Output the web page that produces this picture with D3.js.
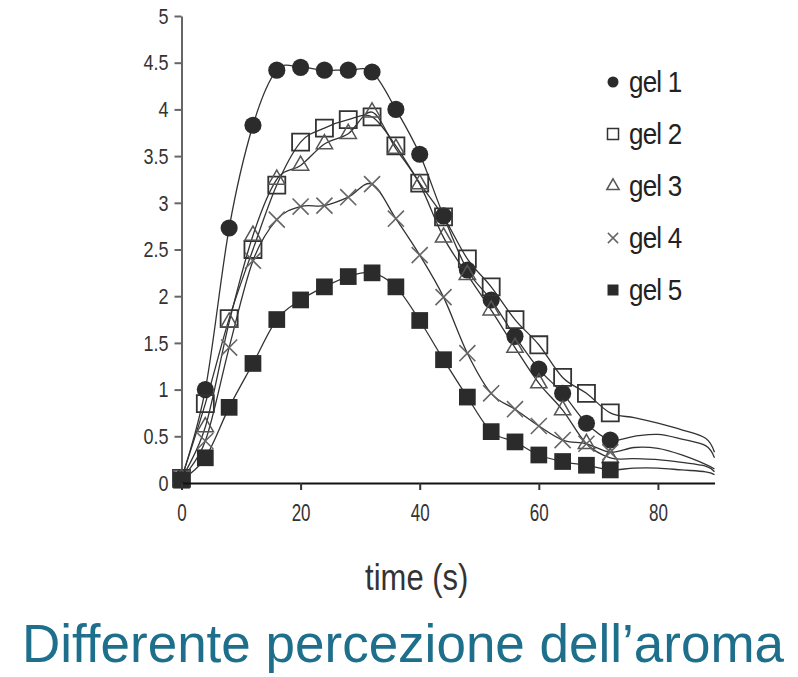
<!DOCTYPE html>
<html>
<head>
<meta charset="utf-8">
<script src="https://cdn.jsdelivr.net/npm/d3@7"></script>
<style>
  body { margin: 0; background: #fff; }
  svg { display: block; font-family: "Liberation Sans", Arial, sans-serif; }
</style>
</head>
<body>
<svg id="chart" width="798" height="677"></svg>
<script>
// sampling times (s); markers only on the first 19 points, the rest is the bare tail
const times = [0, 4, 8, 12, 16, 20, 24, 28, 32, 36, 40, 44, 48, 52, 56, 60, 64, 68, 72, 76, 80, 84, 88, 89.5];
const markedCount = 19;

const gel1 = [0.05, 1.0, 2.73, 3.83, 4.42, 4.45, 4.42, 4.42, 4.4, 4.0, 3.52, 2.86, 2.28, 1.96, 1.57, 1.22, 0.96, 0.64, 0.46, 0.5, 0.52, 0.47, 0.4, 0.27];
const gel2 = [0.05, 0.85, 1.76, 2.5, 3.19, 3.65, 3.8, 3.89, 3.92, 3.61, 3.21, 2.85, 2.4, 2.1, 1.75, 1.48, 1.13, 0.96, 0.75, 0.7, 0.64, 0.57, 0.48, 0.33];
const gel3 = [0.05, 0.6, 1.72, 2.65, 3.25, 3.4, 3.63, 3.74, 3.97, 3.58, 3.2, 2.63, 2.23, 1.85, 1.45, 1.07, 0.78, 0.42, 0.27, 0.26, 0.25, 0.22, 0.18, 0.12];
const gel4 = [0.05, 0.45, 1.45, 2.38, 2.82, 2.96, 2.97, 3.06, 3.2, 2.83, 2.44, 1.99, 1.39, 0.96, 0.79, 0.61, 0.46, 0.42, 0.33, 0.38, 0.37, 0.3, 0.2, 0.15];
const gel5 = [0.03, 0.27, 0.81, 1.28, 1.75, 1.96, 2.1, 2.21, 2.25, 2.1, 1.74, 1.32, 0.92, 0.55, 0.44, 0.3, 0.23, 0.19, 0.14, 0.16, 0.16, 0.14, 0.12, 0.09];

const seriesNames = ["gel 1", "gel 2", "gel 3", "gel 4", "gel 5"];
const yTicks = [0, 0.5, 1, 1.5, 2, 2.5, 3, 3.5, 4, 4.5, 5];
const xTicks = [0, 20, 40, 60, 80];
const xTitle = "time (s)";
const title = "Differente percezione dell\u2019aroma";

const allSeries = [gel1, gel2, gel3, gel4, gel5];

const svg = d3.select("#chart");

const x = d3.scaleLinear().domain([0, 89.5]).range([181.5, 714.5]);
const y = d3.scaleLinear().domain([0, 5]).range([483, 16]);

// marker look per series
const markerShapes = [d3.symbolCircle, d3.symbolSquare, d3.symbolTriangle, d3.symbolX || d3.symbolCross, d3.symbolSquare];
const markerFill = ["#2b2b2b", "none", "none", "none", "#2b2b2b"];
const markerStroke = ["none", "#333", "#555", "#666", "none"];
const markerWidth = [0, 1.8, 1.5, 1.6, 0];
const plotSize = [230, 290, 115, 170, 280];
const legendSize = [95, 121, 66, 70, 121];

// y axis
const yAxis = svg.append("g")
    .attr("transform", "translate(" + x(0) + ",0)")
    .call(d3.axisLeft(y).tickValues(yTicks).tickSize(7).tickSizeOuter(0).tickPadding(6).tickFormat(d => String(d)));
yAxis.select(".domain").attr("stroke", "#666").attr("stroke-width", 2);
yAxis.selectAll(".tick line").attr("stroke", "#666").attr("stroke-width", 2);
yAxis.selectAll(".tick text")
    .attr("font-size", 18)
    .attr("font-family", "Liberation Sans, Arial, sans-serif")
    .attr("fill", "#333")
    .attr("transform", "scale(1,1.25)");

// lines
const line = d3.line()
    .x((d, i) => x(times[i]))
    .y(d => y(d))
    .curve(d3.curveCatmullRom.alpha(0));

svg.append("g").selectAll("path")
    .data(allSeries)
    .enter().append("path")
    .attr("d", d => line(d))
    .attr("fill", "none")
    .attr("stroke", "#333")
    .attr("stroke-width", 1.3);

// markers
allSeries.forEach(function (values, s) {
    const sym = d3.symbol().type(markerShapes[s]).size(plotSize[s]);
    svg.append("g").selectAll("path")
        .data(values.slice(0, markedCount))
        .enter().append("path")
        .attr("d", sym)
        .attr("transform", (d, i) => "translate(" + x(times[i]) + "," + y(d) + ")")
        .attr("fill", markerFill[s])
        .attr("stroke", markerStroke[s])
        .attr("stroke-width", markerWidth[s]);
});

// x axis drawn on top
const xAxis = svg.append("g")
    .attr("transform", "translate(0," + y(0) + ")")
    .call(d3.axisBottom(x).tickValues(xTicks).tickSize(7).tickSizeOuter(0).tickPadding(10));
xAxis.select(".domain").attr("stroke", "#111").attr("stroke-width", 2.2);
xAxis.selectAll(".tick line").attr("stroke", "#333").attr("stroke-width", 2);
xAxis.selectAll(".tick text")
    .attr("font-size", 17)
    .attr("font-family", "Liberation Sans, Arial, sans-serif")
    .attr("fill", "#333")
    .attr("transform", "scale(1,1.4)")
    .attr("y", 15);

svg.append("text")
    .attr("x", x(39.5))
    .attr("y", 0)
    .attr("text-anchor", "middle")
    .attr("font-size", 31)
    .attr("fill", "#333")
    .attr("transform", "translate(0,590) scale(1,1.2)")
    .text(xTitle);

// legend
const legendY = d3.scaleLinear().domain([0, 4]).range([82, 290]);
const legend = svg.append("g").selectAll("g")
    .data(seriesNames)
    .enter().append("g")
    .attr("transform", (d, i) => "translate(613," + legendY(i) + ")");

legend.append("path")
    .attr("d", (d, i) => d3.symbol().type(markerShapes[i]).size(legendSize[i])())
    .attr("fill", (d, i) => markerFill[i])
    .attr("stroke", (d, i) => markerStroke[i])
    .attr("stroke-width", (d, i) => Math.min(markerWidth[i], 1.5));

legend.append("text")
    .attr("x", 16)
    .attr("y", 0)
    .attr("font-size", 26)
    .attr("letter-spacing", -0.8)
    .attr("fill", "#222")
    .attr("transform", "translate(0,10) scale(1,1.12)")
    .text(d => d);

// slide title
svg.append("text")
    .attr("x", 22)
    .attr("y", 662)
    .attr("font-size", 53)
    .attr("fill", "#1d6f8c")
    .text(title);
</script>
</body>
</html>
